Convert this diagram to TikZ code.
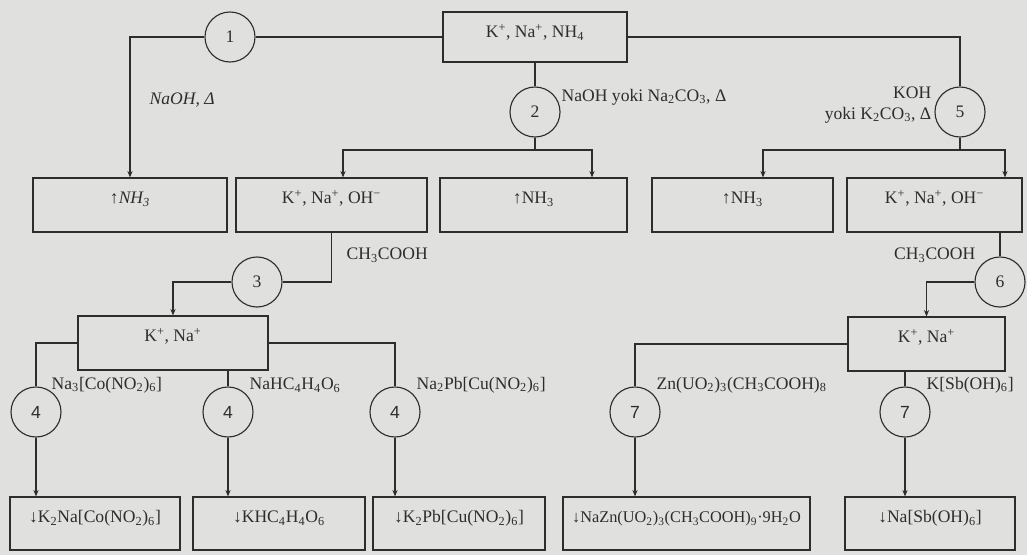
\documentclass[tikz,border=0pt]{standalone}
\usepackage{fontspec}
\setmainfont{Liberation Serif}
\newfontfamily\numfont{Liberation Sans}
\usetikzlibrary{arrows.meta,positioning,calc}
\definecolor{paper}{RGB}{224,224,222}
\definecolor{ink}{RGB}{45,45,45}
\newcommand{\chsub}[1]{\textsubscript{#1}}
\newcommand{\chsup}[1]{\textsuperscript{#1}}
\newcommand{\diagfont}{\fontsize{12.5}{14.5}\selectfont}
\tikzset{
    ionbox/.style={draw=ink, text=ink, align=center, inner xsep=0pt, inner ysep=0pt,
        text height=0.64cm, text depth=0.71cm, line width=0.8pt},
    stepcircle/.style={draw=ink, circle, minimum size=1.25cm, inner sep=0pt,
        text=ink, line width=0.8pt},
    reagent/.style={text=ink, inner sep=1pt, align=left},
    flowline/.style={draw=ink, line width=0.8pt},
    flowarrow/.style={flowline, -{Stealth[length=1.6mm,width=1.3mm]}}
}

\begin{document}
\begin{tikzpicture}[x=0.025cm, y=-0.025cm, font=\diagfont]
\useasboundingbox[fill=paper] (0,0) rectangle (1027,555);

% boxes
\node[ionbox, minimum width=4.6cm, text depth=0.61cm] (top) at (535,37) {K\chsup{+}, Na\chsup{+}, NH\chsub{4}};
\node[ionbox, minimum width=4.85cm] (nhA) at (130,205) {\itshape ↑NH\chsub{3}};
\node[ionbox, minimum width=4.775cm] (ohA) at (331.5,205) {K\chsup{+}, Na\chsup{+}, OH\chsup{−}};
\node[ionbox, minimum width=4.675cm] (nhB) at (533.5,205) {↑NH\chsub{3}};
\node[ionbox, minimum width=4.525cm] (nhC) at (742.5,205) {↑NH\chsub{3}};
\node[ionbox, minimum width=4.375cm] (ohB) at (934.5,205) {K\chsup{+}, Na\chsup{+}, OH\chsup{−}};
\node[ionbox, minimum width=4.75cm] (knA) at (173,343) {K\chsup{+}, Na\chsup{+}};
\node[ionbox, minimum width=3.925cm] (knB) at (926.5,344) {K\chsup{+}, Na\chsup{+}};
\node[ionbox, minimum width=4.25cm, text depth=0.685cm] (pA) at (95,523.5) {↓K\chsub{2}Na[Co(NO\chsub{2})\chsub{6}]};
\node[ionbox, minimum width=4.3cm, text depth=0.685cm] (pB) at (279,523.5) {↓KHC\chsub{4}H\chsub{4}O\chsub{6}};
\node[ionbox, minimum width=4.3cm, text depth=0.685cm] (pC) at (459,523.5) {↓K\chsub{2}Pb[Cu(NO\chsub{2})\chsub{6}]};
\node[ionbox, minimum width=6.175cm, text depth=0.685cm, font=\fontsize{11.6}{13.5}\selectfont] (pD) at (686.5,523.5) {↓NaZn(UO\chsub{2})\chsub{3}(CH\chsub{3}COOH)\chsub{9}·9H\chsub{2}O};
\node[ionbox, minimum width=4.25cm, text depth=0.685cm] (pE) at (930,523.5) {↓Na[Sb(OH)\chsub{6}]};

% step circles
\node[stepcircle] (c1) at (230,37) {1};
\node[stepcircle] (c2) at (535,112) {2};
\node[stepcircle] (c5) at (960,112) {5};
\node[stepcircle] (c3) at (257,282) {3};
\node[stepcircle] (c6) at (1000,282) {6};
\node[stepcircle, font=\diagfont\numfont] (c4a) at (36,412) {4};
\node[stepcircle, font=\diagfont\numfont] (c4b) at (228,412) {4};
\node[stepcircle, font=\diagfont\numfont] (c4c) at (395,412) {4};
\node[stepcircle, font=\diagfont\numfont] (c7a) at (635,412) {7};
\node[stepcircle, font=\diagfont\numfont] (c7b) at (905,412) {7};

% reagents
\node[reagent, anchor=west, font=\diagfont\itshape] (r1) at (148,100) {NaOH, Δ};
\node[reagent, anchor=west] (r2) at (560,97) {NaOH yoki Na\chsub{2}CO\chsub{3}, Δ};
\node[reagent, anchor=east, align=right] (r5) at (933,105) {KOH\\yoki K\chsub{2}CO\chsub{3}, Δ};
\node[reagent, anchor=west] (r3) at (345,255) {CH\chsub{3}COOH};
\node[reagent, anchor=east] (r6) at (977,255) {CH\chsub{3}COOH};
\node[reagent, anchor=west] (r4a) at (50,385) {Na\chsub{3}[Co(NO\chsub{2})\chsub{6}]};
\node[reagent, anchor=west] (r4b) at (248,385) {NaHC\chsub{4}H\chsub{4}O\chsub{6}};
\node[reagent, anchor=west] (r4c) at (415,385) {Na\chsub{2}Pb[Cu(NO\chsub{2})\chsub{6}]};
\node[reagent, anchor=west] (r7a) at (655,385) {Zn(UO\chsub{2})\chsub{3}(CH\chsub{3}COOH)\chsub{8}};
\node[reagent, anchor=west] (r7b) at (925,385) {K[Sb(OH)\chsub{6}]};

% junctions
\coordinate (j2a) at (343,150);
\coordinate (j2b) at (592,150);
\coordinate (j5a) at (763,150);
\coordinate (j5b) at (1005,150);

% connectors
\draw[flowline] (top.west) -- (c1.east);
\draw[flowarrow] (c1.west) -| (nhA.north);
\draw[flowline] (top.south) -- (c2.north);
\draw[flowarrow] (c2.south) |- (j2a) -- (j2a |- ohA.north);
\draw[flowarrow] (c2.south) |- (j2b) -- (j2b |- nhB.north);
\draw[flowline] (top.east) -| (c5.north);
\draw[flowarrow] (c5.south) |- (j5a) -- (j5a |- nhC.north);
\draw[flowarrow] (c5.south) |- (j5b) -- (j5b |- ohB.north);
\draw[flowline] (ohA.south) |- (c3.east);
\draw[flowarrow] (c3.west) -| (knA.north);
\draw[flowline] (knA.west) -| (c4a.north);
\draw[flowline] (knA.south -| c4b) -- (c4b.north);
\draw[flowline] (knA.east) -| (c4c.north);
\draw[flowarrow] (c4a.south) -- (c4a |- pA.north);
\draw[flowarrow] (c4b.south) -- (c4b |- pB.north);
\draw[flowarrow] (c4c.south) -- (c4c |- pC.north);
\draw[flowline] (c6 |- ohB.south) -- (c6.north);
\draw[flowarrow] (c6.west) -| (knB.north);
\draw[flowline] (knB.west) -| (c7a.north);
\draw[flowline] (knB.south -| c7b) -- (c7b.north);
\draw[flowarrow] (c7a.south) -- (c7a |- pD.north);
\draw[flowarrow] (c7b.south) -- (c7b |- pE.north);
\end{tikzpicture}
\end{document}
